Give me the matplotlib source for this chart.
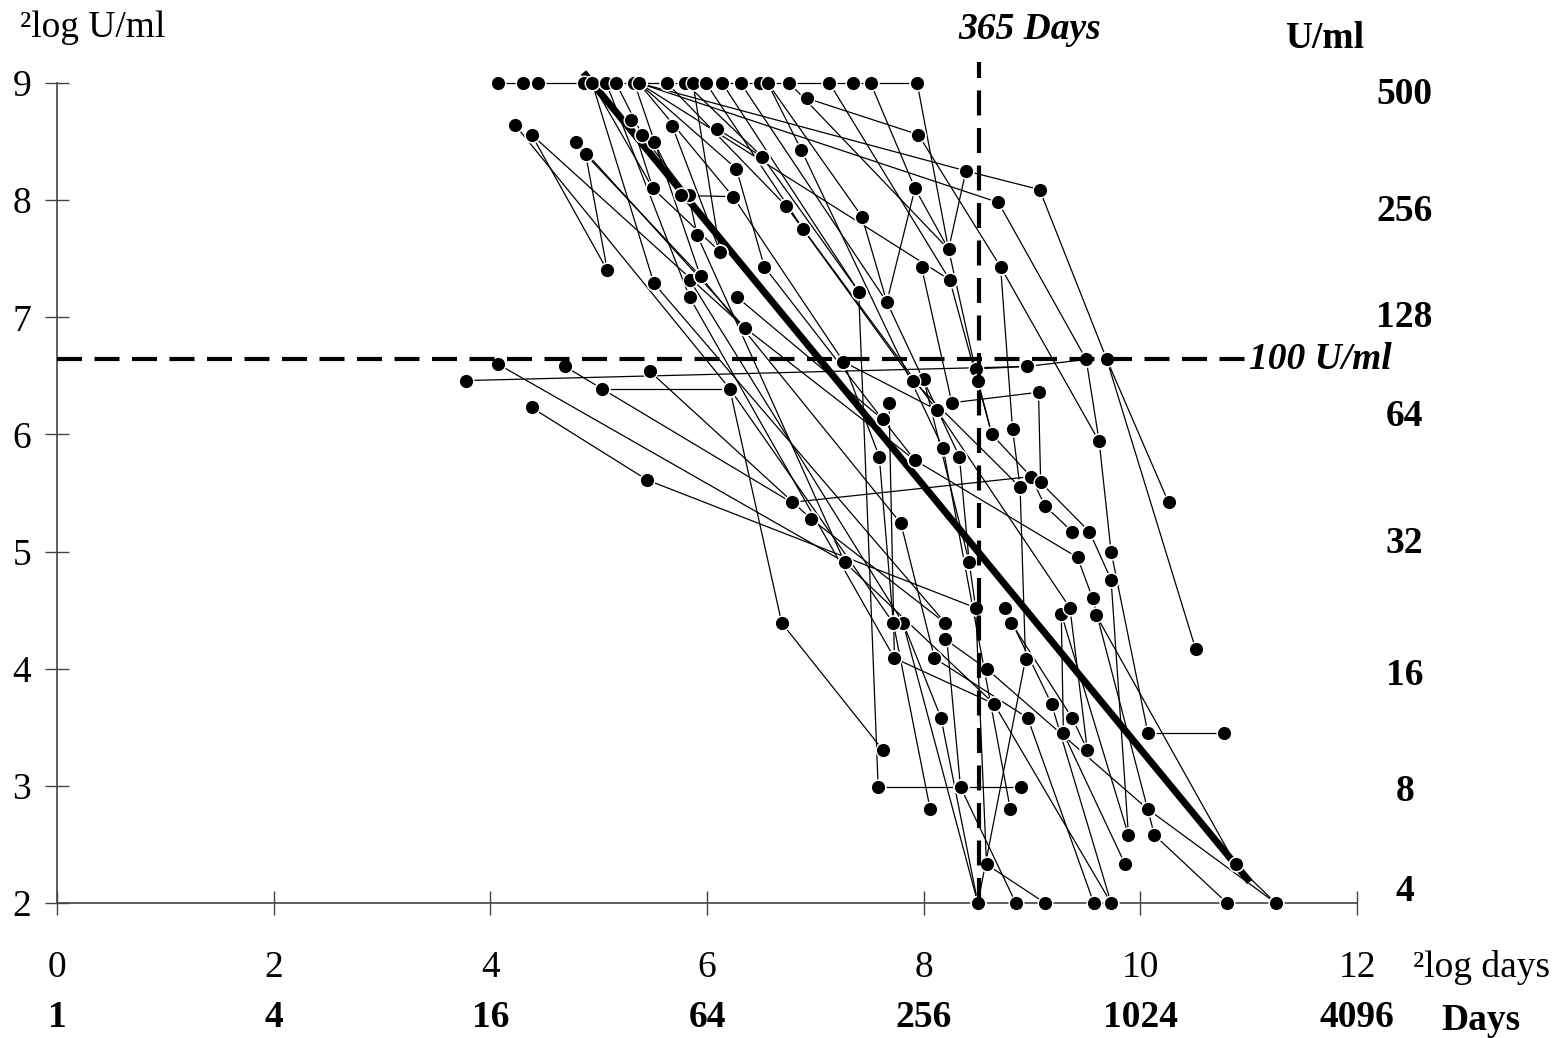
import matplotlib
matplotlib.use("Agg")
import matplotlib.pyplot as plt

plt.rcParams['font.family'] = ['Liberation Serif', 'DejaVu Serif']
FS = 27

# patients still at 500 U/ml (2log = 9) at first visits
top_x = [4.07, 4.30, 4.44, 4.86, 4.94, 5.07, 5.16, 5.33, 5.37, 5.63, 5.80, 5.87,
         5.99, 6.14, 6.31, 6.49, 6.56, 6.76, 7.13, 7.35, 7.51, 7.94]
top_y = 9

# follow-up segments (2log days, 2log U/ml): x0, y0, x1, y1
segments = [
    (4.94, 9, 5.50, 8.10), (4.94, 9, 5.51, 7.29), (5.16, 9, 5.40, 8.56),
    (5.37, 9, 6.27, 8.27), (5.37, 9, 6.24, 8.03), (5.37, 9, 8.24, 7.32),
    (5.37, 9, 8.69, 7.98), (5.37, 9, 8.39, 8.25), (5.63, 9, 6.73, 7.95),
    (5.80, 9, 6.51, 8.37), (5.99, 9, 6.89, 7.75), (6.14, 9, 7.40, 7.22),
    (6.31, 9, 7.66, 7.13), (6.56, 9, 7.43, 7.86), (6.56, 9, 6.87, 8.43),
    (6.76, 9, 8.23, 7.58), (7.13, 9, 8.24, 7.32), (7.51, 9, 7.92, 8.10),
    (7.94, 9, 8.23, 7.58), (5.07, 9, 5.84, 7.17), (5.33, 9, 5.94, 7.35),
    (5.87, 9, 6.12, 7.56),
    (5.40, 8.56, 5.83, 8.04), (8.39, 8.25, 9.07, 8.09), (9.07, 8.09, 9.69, 6.64),
    (9.69, 6.64, 10.26, 5.42), (9.69, 6.64, 10.51, 4.17), (6.92, 8.87, 7.95, 8.56),
    (7.95, 8.56, 8.71, 7.43), (8.71, 7.43, 8.82, 6.05), (8.71, 7.43, 9.62, 5.94),
    (7.66, 7.13, 7.92, 8.10), (7.92, 8.10, 8.23, 7.58), (8.23, 7.58, 8.39, 8.25),
    (8.69, 7.98, 9.50, 6.64), (9.50, 6.64, 9.62, 5.94), (9.62, 5.94, 9.73, 5.00),
    (4.38, 8.56, 5.08, 7.40), (4.38, 8.56, 6.35, 6.91), (4.88, 8.39, 5.08, 7.40),
    (4.88, 8.39, 5.94, 7.35), (4.23, 8.64, 6.21, 6.39), (4.79, 8.50, 6.35, 6.91),
    (5.30, 8.68, 5.50, 8.10), (5.51, 8.50, 5.76, 8.04), (5.68, 8.63, 6.12, 7.56),
    (6.09, 8.61, 6.51, 8.37), (5.76, 8.04, 6.24, 8.03),
    (4.38, 6.23, 5.45, 5.61), (5.45, 5.61, 8.48, 4.52), (4.07, 6.60, 7.27, 4.91),
    (3.78, 6.46, 8.95, 6.58), (4.69, 6.58, 5.03, 6.39), (5.03, 6.39, 6.21, 6.39),
    (5.03, 6.39, 6.78, 5.42), (5.47, 6.54, 6.96, 5.28), (6.21, 6.39, 6.69, 4.39),
    (6.69, 4.39, 7.62, 3.31), (6.21, 6.39, 7.72, 4.39), (6.35, 6.91, 7.92, 5.78),
    (6.28, 7.17, 7.62, 6.13), (5.84, 7.17, 7.73, 4.09), (5.84, 7.32, 7.81, 4.39),
    (5.94, 7.35, 7.79, 5.24), (5.51, 7.29, 8.20, 4.39), (7.40, 7.22, 7.58, 2.99),
    (6.96, 5.28, 8.20, 4.39), (5.50, 8.10, 6.12, 7.56), (5.83, 8.04, 5.91, 7.70),
    (5.91, 7.70, 7.27, 4.91), (6.24, 8.03, 7.26, 6.62), (6.27, 8.27, 6.53, 7.43),
    (6.53, 7.43, 7.62, 6.13), (6.51, 8.37, 7.40, 7.22), (6.73, 7.95, 7.90, 6.46),
    (6.89, 7.75, 8.12, 6.21), (6.87, 8.43, 8.18, 5.88), (7.43, 7.86, 7.66, 7.13),
    (7.66, 7.13, 8.33, 5.81), (8.24, 7.32, 8.63, 6.00), (8.23, 7.58, 8.50, 6.46),
    (7.98, 7.43, 8.26, 6.27), (7.26, 6.62, 8.12, 6.21), (7.26, 6.62, 7.59, 5.81),
    (7.90, 6.46, 8.89, 5.55), (8.00, 6.47, 8.42, 4.91), (7.68, 6.27, 7.73, 4.09),
    (8.26, 6.27, 9.06, 6.36), (8.12, 6.21, 9.35, 4.52), (7.62, 6.13, 7.92, 5.78),
    (8.63, 6.00, 8.99, 5.64), (8.82, 6.05, 8.89, 5.55), (8.48, 6.56, 8.95, 6.58),
    (8.50, 6.46, 8.63, 6.00), (8.95, 6.58, 9.50, 6.64), (8.18, 5.88, 8.80, 2.80),
    (8.33, 5.81, 8.42, 4.91), (7.59, 5.81, 7.72, 4.39), (7.92, 5.78, 9.42, 4.95),
    (8.99, 5.64, 9.12, 5.39), (9.12, 5.39, 9.37, 5.17), (9.08, 5.59, 9.53, 5.17),
    (8.89, 5.55, 8.94, 4.08), (6.78, 5.42, 8.99, 5.64), (7.79, 5.24, 8.10, 4.09),
    (9.53, 5.17, 9.73, 4.76), (9.73, 5.00, 10.07, 3.45), (9.73, 4.76, 9.89, 2.58),
    (7.27, 4.91, 8.65, 3.70), (8.42, 4.91, 8.48, 4.52), (9.27, 4.47, 9.89, 2.58),
    (8.48, 4.52, 8.58, 2.33), (8.75, 4.52, 9.18, 3.70), (8.81, 4.39, 9.37, 3.58),
    (7.72, 4.39, 8.06, 2.80), (7.81, 4.39, 8.16, 3.58), (8.20, 4.39, 8.34, 2.99),
    (8.20, 4.25, 8.58, 4.00), (7.73, 4.09, 8.65, 3.70), (8.10, 4.09, 8.96, 3.58),
    (8.58, 4.00, 10.07, 2.80), (8.65, 3.70, 9.73, 2.00), (8.96, 3.58, 9.57, 2.00),
    (9.37, 3.58, 9.51, 3.31), (9.29, 3.45, 9.86, 2.33), (10.07, 3.45, 10.77, 3.45),
    (7.58, 2.99, 8.34, 2.99), (8.34, 2.99, 8.90, 2.99), (8.34, 2.99, 8.85, 2.00),
    (10.13, 2.58, 10.80, 2.00), (10.07, 2.80, 11.25, 2.00), (10.88, 2.33, 11.25, 2.00),
    (8.50, 2.00, 8.94, 4.08), (8.58, 2.33, 9.12, 2.00), (8.16, 3.58, 8.50, 2.00),
    (7.81, 4.39, 8.50, 2.00), (9.56, 4.60, 10.13, 2.58), (9.59, 4.46, 10.88, 2.33),
    (9.35, 4.52, 9.51, 3.31), (9.18, 3.70, 9.73, 2.00), (9.42, 4.95, 9.56, 4.60),
    (9.06, 6.36, 9.08, 5.59), (8.75, 4.52, 8.81, 4.39), (8.20, 4.39, 8.20, 4.25),
    (9.27, 4.47, 9.29, 3.45),
]

# regression line
fit_x = [4.86, 11.01]
fit_y = [9.09, 2.18]

cutoff_days = 8.51   # 2log 365
cutoff_titer = 6.64  # 2log 100

x_ticks = [0, 2, 4, 6, 8, 10, 12]
days_labels = ["1", "4", "16", "64", "256", "1024", "4096"]
y_ticks = [2, 3, 4, 5, 6, 7, 8, 9]
uml_labels = ["500", "256", "128", "64", "32", "16", "8", "4"]
uml_pos = [8.90, 7.90, 7.00, 6.15, 5.07, 3.94, 2.95, 2.10]

fig = plt.figure(figsize=(15.61, 10.38), dpi=100)
ax = fig.add_axes([57 / 1561, 1 - 903 / 1038, 1300 / 1561, 820 / 1038])
ax.set_xlim(0, 12)
ax.set_ylim(2, 9)

ax.plot([min(top_x), max(top_x)], [top_y, top_y], color='black', lw=0.9, clip_on=False, zorder=2)
for x0, y0, x1, y1 in segments:
    ax.plot([x0, x1], [y0, y1], color='black', lw=0.9, clip_on=False, zorder=2)

ax.plot(fit_x, fit_y, color='black', lw=5, solid_capstyle='butt', clip_on=False, zorder=3)

px = [s[0] for s in segments] + [s[2] for s in segments] + top_x
py = [s[1] for s in segments] + [s[3] for s in segments] + [top_y] * len(top_x)
ax.scatter(px, py, s=110, color='black', edgecolors='white', linewidths=1.0,
           clip_on=False, zorder=4)

ax.plot([cutoff_days, cutoff_days], [2, 9.18], color='black', lw=3,
        dashes=(6, 3), clip_on=False, zorder=5)
ax.plot([0, 11.0], [cutoff_titer, cutoff_titer], color='black', lw=3,
        dashes=(6, 3), clip_on=False, zorder=5)

ax.text(8.98, 9.46, "365 Days", fontsize=FS, fontweight='bold', fontstyle='italic',
        ha='center', va='center')
ax.text(11.0, cutoff_titer, "100 U/ml", fontsize=FS, fontweight='bold', fontstyle='italic',
        ha='left', va='center')
ax.text(11.70, 9.38, "U/ml", fontsize=FS, fontweight='bold', ha='center', va='center')
for lab, yy in zip(uml_labels, uml_pos):
    ax.text(12.44, yy, lab, fontsize=FS, fontweight='bold', ha='center', va='center')

for xx, d in zip(x_ticks, days_labels):
    ax.text(xx, 1.45, str(xx), fontsize=FS, ha='center', va='center')
    ax.text(xx, 1.02, d, fontsize=FS, fontweight='bold', ha='center', va='center')
ax.text(12.52, 1.45, "²log days", fontsize=FS, ha='left', va='center')
ax.text(13.14, 1.0, "Days", fontsize=FS, fontweight='bold', ha='center', va='center')
fig.text(20 / 1561, 1 - 28 / 1038, "²log U/ml", fontsize=FS, ha='left', va='center')

for side in ['top', 'right']:
    ax.spines[side].set_visible(False)
for side in ['left', 'bottom']:
    ax.spines[side].set_color('#444444')
    ax.spines[side].set_linewidth(1.2)
ax.set_xticks(x_ticks)
ax.set_xticklabels([])
ax.set_yticks(y_ticks)
ax.tick_params(axis='both', direction='inout', length=17, width=1, color='#444444')
ax.tick_params(axis='y', labelsize=FS, pad=10)

fig.savefig("out.png", dpi=100)
